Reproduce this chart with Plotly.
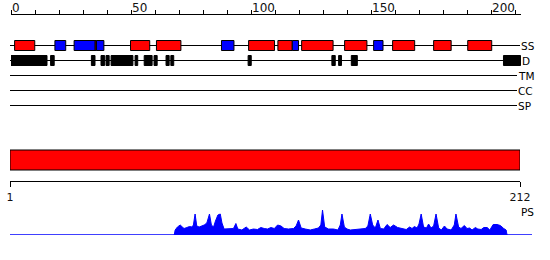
import plotly.graph_objects as go

W, H = 550, 260
seq_len = 212
top_ticks = [0, 50, 100, 150, 200]
bottom_ticks = [1, 212]
track_names = ["SS", "D", "TM", "CC", "SP"]

helix_start = [1.5, 35.0, 49.8, 60.6, 99.0, 111.2, 121.1, 139.0, 159.0, 176.1, 190.3]
helix_end = [9.9, 35.6, 57.8, 70.8, 109.8, 117.2, 134.2, 148.3, 168.2, 183.4, 200.3]
strand_start = [18.3, 26.3, 35.6, 87.7, 117.2, 151.1]
strand_end = [22.8, 35.0, 38.7, 92.9, 119.8, 155.0]
disorder_start = [0.0, 16.5, 33.5, 37.5, 39.6, 41.7, 51.7, 55.5, 59.6, 64.6, 66.6, 98.8, 133.7, 136.5, 141.8, 205.2]
disorder_end = [15.0, 18.0, 35.0, 39.0, 40.9, 50.8, 52.8, 58.8, 60.9, 65.9, 67.8, 100.1, 135.1, 137.7, 144.3, 212.3]

domain_start = [1]
domain_end = [212]

ps_pos = [68.0, 68.4, 69.35, 70.5, 71.4, 72.1, 73.3, 74.4, 75.4, 76.0, 76.7, 77.4, 78.4, 79.5, 80.5,
          81.6, 82.7, 83.5, 84.4, 85.2, 86.2, 87.2, 87.9, 88.8, 90.6, 92.7, 93.7, 94.5, 96.2, 98.0,
          99.4, 101.0, 102.7, 104.1, 105.5, 106.9, 108.3, 109.7, 111.1, 112.5, 113.8, 115.6, 117.7,
          118.8, 119.8, 120.9, 122.6, 124.7, 126.4, 128.1, 129.1, 129.8, 130.7, 132.3, 134.4, 136.2,
          137.2, 137.9, 138.9, 140.0, 141.4, 143.5, 145.5, 147.6, 148.7, 149.7, 150.7, 151.8, 152.9,
          153.9, 155.3, 156.7, 158.0, 159.4, 161.1, 162.9, 164.7, 166.1, 167.1, 168.1, 169.2, 170.0,
          170.9, 171.9, 173.1, 174.0, 175.0, 176.1, 177.1, 178.2, 179.3, 180.6, 181.7, 183.4, 184.7,
          185.4, 186.5, 187.5, 188.9, 190.0, 191.1, 192.1, 193.5, 194.5, 195.9, 197.0, 198.4, 199.5,
          200.9, 202.5, 203.9, 205.3, 206.3, 206.7]
ps_val = [0.00, 0.20, 0.32, 0.40, 0.32, 0.26, 0.30, 0.34, 0.32, 0.40, 0.84, 0.36, 0.32, 0.36, 0.40,
          0.48, 0.84, 0.40, 0.32, 0.56, 0.80, 0.84, 0.48, 0.24, 0.24, 0.26, 0.46, 0.24, 0.20, 0.32,
          0.20, 0.24, 0.22, 0.30, 0.26, 0.24, 0.30, 0.26, 0.40, 0.36, 0.26, 0.24, 0.26,
          0.36, 0.60, 0.28, 0.24, 0.20, 0.24, 0.28, 0.40, 1.00, 0.32, 0.24, 0.24, 0.20,
          0.40, 0.84, 0.32, 0.24, 0.20, 0.22, 0.22, 0.26, 0.36, 0.84, 0.40, 0.28, 0.60,
          0.26, 0.24, 0.42, 0.30, 0.40, 0.30, 0.26, 0.22, 0.32, 0.26, 0.34, 0.28, 0.44,
          0.84, 0.32, 0.28, 0.44, 0.28, 0.36, 0.84, 0.28, 0.20, 0.36, 0.24, 0.20, 0.40,
          0.84, 0.32, 0.26, 0.38, 0.26, 0.28, 0.20, 0.30, 0.24, 0.22, 0.30, 0.30, 0.20,
          0.42, 0.42, 0.38, 0.26, 0.20, 0.00]

def px(x):
    return x / W

track_y = {"SS": 45.5, "D": 60.5, "TM": 75.5, "CC": 90.5, "SP": 105.5}
track_line_end = {"SS": 520, "D": 520, "TM": 517, "CC": 517, "SP": 517}
track_label_x = {"SS": 520, "D": 521, "TM": 517, "CC": 517, "SP": 517}
label_font = dict(family="DejaVu Sans", size=10.5, color="black")

fig = go.Figure()

fig.add_trace(go.Scatter(x=ps_pos, y=ps_val, xaxis="x", yaxis="y2", mode="lines",
                         line=dict(color="#0000ff", width=1), fill="tozeroy",
                         fillcolor="#0000ff", hoverinfo="skip", showlegend=False))

shapes = []
for name in track_names:
    y = track_y[name]
    shapes.append(dict(type="line", xref="paper", yref="y", x0=px(10), x1=px(track_line_end[name]),
                       y0=y, y1=y, line=dict(color="black", width=1)))
for s, e in zip(helix_start, helix_end):
    shapes.append(dict(type="rect", xref="x", yref="y", x0=s, x1=e, y0=40.5, y1=50.5,
                       fillcolor="#ff0000", line=dict(color="black", width=1)))
for s, e in zip(strand_start, strand_end):
    shapes.append(dict(type="rect", xref="x", yref="y", x0=s, x1=e, y0=40.5, y1=50.5,
                       fillcolor="#0000ff", line=dict(color="black", width=1)))
for s, e in zip(disorder_start, disorder_end):
    shapes.append(dict(type="rect", xref="x", yref="y", x0=s, x1=e, y0=55.5, y1=65.5,
                       fillcolor="black", line=dict(color="black", width=1)))
for s, e in zip(domain_start, domain_end):
    shapes.append(dict(type="rect", xref="x2", yref="y3", x0=s, x1=e, y0=150, y1=170,
                       fillcolor="#ff0000", line=dict(color="black", width=1)))
shapes.append(dict(type="line", xref="paper", yref="y2", x0=px(10), x1=px(532), y0=0, y1=0,
                   line=dict(color="#0000ff", width=1.5)))

annotations = []
for name in track_names:
    annotations.append(dict(text=name, xref="paper", yref="y", x=px(track_label_x[name]),
                            y=track_y[name], xanchor="left", yanchor="middle", showarrow=False,
                            borderpad=0, font=label_font))
annotations.append(dict(text="PS", xref="paper", yref="paper", x=px(520), y=1 - 211.5 / H,
                        xanchor="left", yanchor="middle", showarrow=False, borderpad=0,
                        font=label_font))

fig.update_layout(
    width=W, height=H, autosize=False, margin=dict(l=0, r=0, t=0, b=0, pad=0, autoexpand=False),
    paper_bgcolor="white", plot_bgcolor="white", showlegend=False,
    xaxis=dict(domain=[px(11), px(521)], range=[0, 212.5], side="top", anchor="y",
               showline=True, linecolor="black", linewidth=1, ticks="outside", ticklen=4,
               tickcolor="black", tickmode="array", tickvals=top_ticks, automargin=False,
               ticklabelposition="outside right", ticklabelstandoff=-3,
               minor=dict(tick0=0, dtick=10, ticks="outside", ticklen=4, tickcolor="black", showgrid=False),
               showgrid=False, zeroline=False,
               tickfont=dict(family="DejaVu Sans", size=12, color="#111")),
    yaxis=dict(domain=[0, 1 - 15 / H], range=[260, 15], visible=False, anchor="x", automargin=False),
    yaxis2=dict(domain=[1 - 235 / H, 1 - 210 / H], range=[0, 1], visible=False, anchor="x", automargin=False),
    xaxis2=dict(domain=[px(10), px(520)], range=[1, 212], anchor="y3", side="bottom",
                showline=True, linecolor="black", linewidth=1, ticks="outside", ticklen=5,
                tickcolor="black", tickmode="array", tickvals=bottom_ticks, automargin=False,
                showgrid=False, zeroline=False, ticklabelstandoff=1,
                tickfont=dict(family="DejaVu Sans", size=11, color="#111")),
    yaxis3=dict(domain=[1 - 181 / H, 1 - 140 / H], range=[181, 140], visible=False, anchor="x2", automargin=False),
    shapes=shapes, annotations=annotations,
)

fig.write_html("out.html", config={"responsive": False, "displayModeBar": False},
               post_script="document.documentElement.style.overflow='hidden';document.body.style.margin='0';document.body.style.overflow='hidden';")
